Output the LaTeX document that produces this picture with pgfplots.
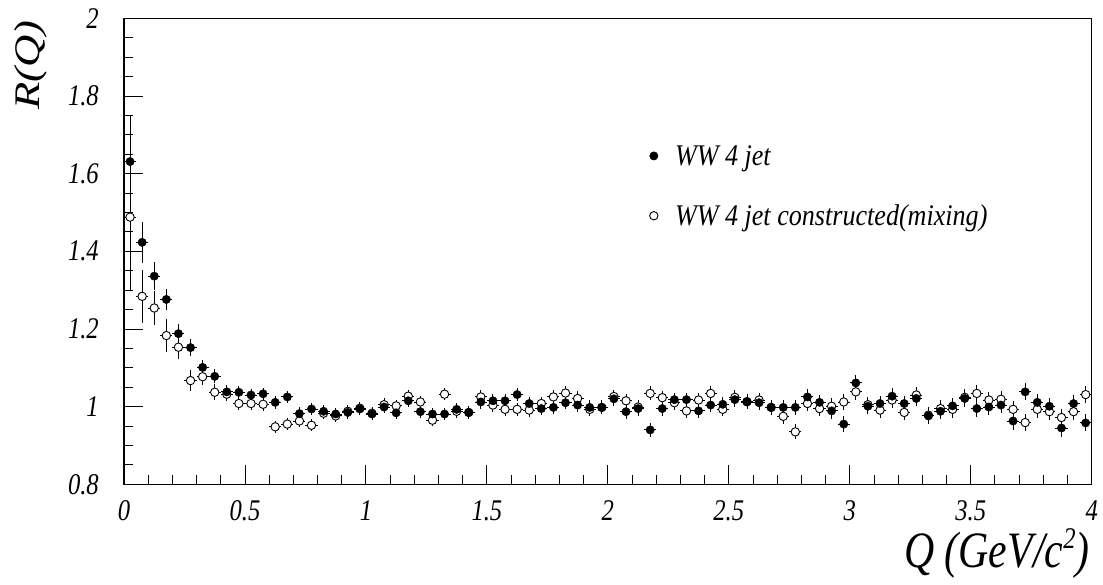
\documentclass[border=0pt]{standalone}
\usepackage{fontspec}
\setmainfont{Liberation Serif}
\newfontfamily\hfont{Liberation Serif}[FakeStretch=0.82]
\newfontfamily\lfont{Liberation Serif}[FakeStretch=0.87]
\newfontfamily\vfont{Liberation Serif}[FakeStretch=1.24]
\usepackage{pgfplots}
\usepackage{pgfplotstable}
\pgfplotsset{compat=1.18}

\pgfplotstableread{
x y ex ey
0.025 1.631 0.025 0.120
0.075 1.423 0.025 0.052
0.125 1.336 0.025 0.036
0.175 1.276 0.025 0.026
0.225 1.188 0.025 0.024
0.275 1.152 0.025 0.021
0.325 1.101 0.025 0.019
0.375 1.078 0.025 0.018
0.425 1.038 0.025 0.017
0.475 1.037 0.025 0.016
0.525 1.030 0.025 0.016
0.575 1.033 0.025 0.016
0.625 1.011 0.025 0.016
0.675 1.025 0.025 0.016
0.725 0.982 0.025 0.016
0.775 0.994 0.025 0.016
0.825 0.988 0.025 0.016
0.875 0.981 0.025 0.016
0.925 0.985 0.025 0.016
0.975 0.994 0.025 0.016
1.025 0.981 0.025 0.016
1.075 0.999 0.025 0.016
1.125 0.984 0.025 0.016
1.175 1.015 0.025 0.016
1.225 0.987 0.025 0.016
1.275 0.981 0.025 0.016
1.325 0.981 0.025 0.016
1.375 0.993 0.025 0.016
1.425 0.985 0.025 0.016
1.475 1.012 0.025 0.017
1.525 1.015 0.025 0.017
1.575 1.015 0.025 0.017
1.625 1.031 0.025 0.017
1.675 1.008 0.025 0.017
1.725 0.995 0.025 0.017
1.775 0.998 0.025 0.017
1.825 1.010 0.025 0.017
1.875 1.004 0.025 0.018
1.925 0.998 0.025 0.018
1.975 0.998 0.025 0.018
2.025 1.020 0.025 0.018
2.075 0.987 0.025 0.018
2.125 0.995 0.025 0.018
2.175 0.940 0.025 0.018
2.225 0.995 0.025 0.018
2.275 1.018 0.025 0.018
2.325 1.018 0.025 0.018
2.375 0.989 0.025 0.018
2.425 1.004 0.025 0.018
2.475 1.006 0.025 0.018
2.525 1.018 0.025 0.019
2.575 1.012 0.025 0.019
2.625 1.010 0.025 0.019
2.675 0.998 0.025 0.019
2.725 0.998 0.025 0.019
2.775 0.998 0.025 0.019
2.825 1.025 0.025 0.020
2.875 1.011 0.025 0.020
2.925 0.989 0.025 0.020
2.975 0.955 0.025 0.020
3.025 1.061 0.025 0.020
3.075 1.001 0.025 0.020
3.125 1.008 0.025 0.020
3.175 1.027 0.025 0.020
3.225 1.008 0.025 0.020
3.275 1.021 0.025 0.020
3.325 0.976 0.025 0.021
3.375 0.988 0.025 0.021
3.425 1.002 0.025 0.021
3.475 1.021 0.025 0.021
3.525 0.995 0.025 0.021
3.575 0.999 0.025 0.021
3.625 1.004 0.025 0.021
3.675 0.963 0.025 0.022
3.725 1.038 0.025 0.022
3.775 1.011 0.025 0.022
3.825 1.001 0.025 0.022
3.875 0.945 0.025 0.022
3.925 1.008 0.025 0.022
3.975 0.958 0.025 0.022
}\filled

\pgfplotstableread{
x y ex ey
0.025 1.488 0.025 0.190
0.075 1.284 0.025 0.068
0.125 1.254 0.025 0.045
0.175 1.183 0.025 0.042
0.225 1.153 0.025 0.030
0.275 1.067 0.025 0.027
0.325 1.077 0.025 0.021
0.375 1.037 0.025 0.020
0.425 1.032 0.025 0.018
0.475 1.008 0.025 0.017
0.525 1.008 0.025 0.016
0.575 1.006 0.025 0.016
0.625 0.948 0.025 0.016
0.675 0.955 0.025 0.016
0.725 0.963 0.025 0.016
0.775 0.952 0.025 0.016
0.825 0.983 0.025 0.016
0.875 0.976 0.025 0.016
0.925 0.988 0.025 0.016
0.975 0.996 0.025 0.016
1.025 0.983 0.025 0.016
1.075 1.005 0.025 0.016
1.125 1.002 0.025 0.016
1.175 1.027 0.025 0.016
1.225 1.012 0.025 0.016
1.275 0.965 0.025 0.016
1.325 1.032 0.025 0.016
1.375 0.988 0.025 0.016
1.425 0.985 0.025 0.016
1.475 1.025 0.025 0.017
1.525 1.004 0.025 0.017
1.575 0.993 0.025 0.017
1.625 0.993 0.025 0.017
1.675 0.991 0.025 0.017
1.725 1.008 0.025 0.017
1.775 1.025 0.025 0.017
1.825 1.035 0.025 0.017
1.875 1.021 0.025 0.018
1.925 0.993 0.025 0.018
1.975 0.998 0.025 0.018
2.025 1.026 0.025 0.018
2.075 1.015 0.025 0.018
2.125 0.999 0.025 0.018
2.175 1.034 0.025 0.018
2.225 1.023 0.025 0.018
2.275 1.010 0.025 0.018
2.325 0.989 0.025 0.018
2.375 1.017 0.025 0.018
2.425 1.034 0.025 0.018
2.475 0.993 0.025 0.018
2.525 1.024 0.025 0.019
2.575 1.013 0.025 0.019
2.625 1.017 0.025 0.019
2.675 0.998 0.025 0.019
2.725 0.975 0.025 0.019
2.775 0.935 0.025 0.019
2.825 1.008 0.025 0.020
2.875 0.995 0.025 0.020
2.925 1.001 0.025 0.020
2.975 1.012 0.025 0.020
3.025 1.038 0.025 0.020
3.075 1.005 0.025 0.020
3.125 0.991 0.025 0.020
3.175 1.017 0.025 0.020
3.225 0.985 0.025 0.020
3.275 1.030 0.025 0.020
3.325 0.978 0.025 0.021
3.375 0.995 0.025 0.021
3.425 0.993 0.025 0.021
3.475 1.024 0.025 0.021
3.525 1.034 0.025 0.021
3.575 1.017 0.025 0.021
3.625 1.019 0.025 0.021
3.675 0.993 0.025 0.022
3.725 0.959 0.025 0.022
3.775 0.993 0.025 0.022
3.825 0.987 0.025 0.022
3.875 0.972 0.025 0.022
3.925 0.987 0.025 0.022
3.975 1.031 0.025 0.022
}\mixed

\begin{document}
\begin{tikzpicture}
\useasboundingbox (-124pt,-100.7pt) rectangle (979pt,484.3pt);
\begin{axis}[
  at={(0,0)}, anchor=south west,
  scale only axis, width=967.7pt, height=466pt,
  xmin=0, xmax=4, ymin=0.8, ymax=2,
  xtick={0,0.5,1,1.5,2,2.5,3,3.5,4},
  ytick={0.8,1,1.2,1.4,1.6,1.8,2},
  minor x tick num=4, minor y tick num=3,
  tick pos=left, tick align=inside,
  major tick length=19pt, minor tick length=9.5pt,
  axis line style={line width=1.2pt},
  every tick/.style={black, line width=0.9pt},
  /pgf/number format/assume math mode=true,
  xticklabel style={font=\hfont\itshape\fontsize{30}{30}\selectfont, anchor=north, inner sep=0pt, yshift=-16pt},
  yticklabel style={font=\hfont\itshape\fontsize{30}{30}\selectfont, anchor=east, inner sep=0pt, xshift=-25pt},
  xlabel={Q (GeV/c\raisebox{19pt}{\fontsize{30}{30}\selectfont 2})},
  xlabel style={font=\hfont\itshape\fontsize{51}{51}\selectfont, at={(axis description cs:0.998,-0.1796)}, anchor=base east, inner sep=0pt},
  ylabel={R(Q)},
  ylabel style={font=\vfont\itshape\fontsize{36}{36}\selectfont, at={(axis description cs:-0.0878,0.9964)}, anchor=base east, inner sep=0pt},
  legend style={draw=none, fill=none, at={(axis description cs:0.543,0.728)}, anchor=north west,
    font=\lfont\itshape\fontsize{30}{30}\selectfont, row sep=38pt, inner sep=0pt, nodes={inner sep=0pt},
    /tikz/every odd column/.append style={column sep=17pt}},
  legend cell align=left,
  reverse legend,
  error bars/error bar style={line width=0.9pt, black},
]
\addplot[only marks, mark=*, mark size=4.2pt, mark options={fill=white, draw=black, line width=0.9pt},
  error bars/.cd, x dir=both, x explicit, y dir=both, y explicit, error mark=none]
  table[x=x, y=y, x error=ex, y error=ey] {\mixed};
\addlegendentry{WW 4 jet constructed(mixing)}
\addplot[only marks, mark=*, mark size=4.2pt, mark options={fill=black, draw=black},
  error bars/.cd, x dir=both, x explicit, y dir=both, y explicit, error mark=none]
  table[x=x, y=y, x error=ex, y error=ey] {\filled};
\addlegendentry{WW 4 jet}
\end{axis}
\end{tikzpicture}
\end{document}
